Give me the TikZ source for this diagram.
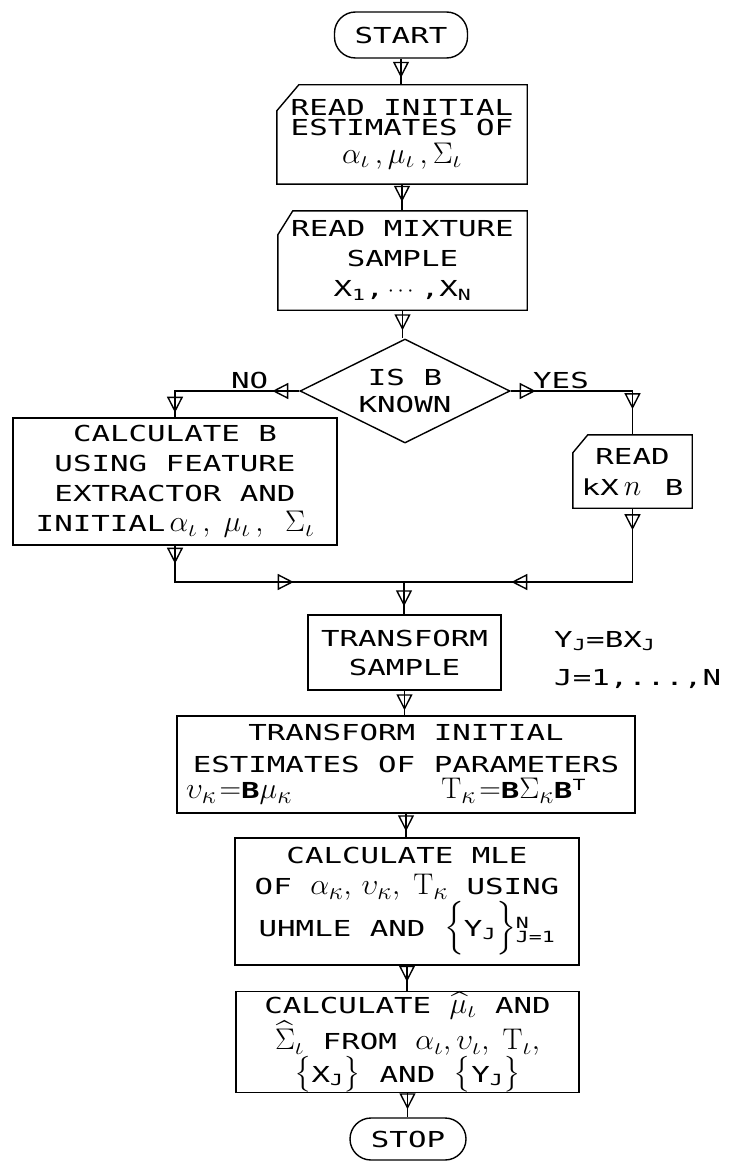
\RequirePackage{fix-cm}
\documentclass[tikz,border=0pt]{standalone}
\usepackage{amsmath}
\usepackage{graphicx}
\usepackage{fontspec}
\newfontfamily\plotfont[FakeStretch=1.4]{DejaVu Sans Mono}
\newcommand\gk[1]{\scalebox{1.2}{\fontsize{24.88}{25}\selectfont$#1$}}
\usetikzlibrary{arrows.meta,shapes.geometric,decorations.markings}
\tikzset{
  base/.style={font=\plotfont\fontsize{22}{30}\selectfont, align=center, inner sep=0pt},
  boxline/.style={line width=1.4pt},
  box/.style={base, draw, boxline, rectangle},
  cardtext/.style={base, rectangle},
  term/.style={box, rounded corners=21pt},
  decide/.style={base, draw, boxline, diamond, aspect=2},
  flow/.style={line width=1.4pt},
  mk/.style={decoration={markings, mark=at position #1 with {\arrow{Triangle[open,length=16pt,width=16pt]}}}},
  lbl/.style={font=\plotfont\fontsize{22}{30}\selectfont, inner sep=0pt, anchor=base west},
}
\begin{document}
\begin{tikzpicture}[x=1pt,y=-1pt]
\fill[white] (0,0) rectangle (739,1161);
\useasboundingbox (0,0) rectangle (739,1161);

% nodes
\node[term, minimum width=133pt, minimum height=46pt] (start) at (401,35) {START};

\node[cardtext, minimum width=250pt, minimum height=99pt, font=\plotfont\fontsize{22}{20}\selectfont] (read1) at (402,134.5)
  {READ INITIAL\\ESTIMATES OF\\[6pt]\gk{\alpha_\iota\,,\mu_\iota\,,\Sigma_\iota}};
\draw[boxline] ([yshift=-26pt]read1.north west) -- ([xshift=22pt]read1.north west) -- (read1.north east)
  -- (read1.south east) -- (read1.south west) -- cycle;

\node[cardtext, minimum width=249pt, minimum height=99pt] (read2) at (402.5,260.5)
  {READ MIXTURE\\SAMPLE\\X$_{\text{1}}$,\,$\cdots$\,,X$_{\text{N}}$};
\draw[boxline] ([yshift=-24pt]read2.north west) -- ([xshift=15pt]read2.north west) -- (read2.north east)
  -- (read2.south east) -- (read2.south west) -- cycle;

\node[decide, minimum width=210pt, minimum height=104pt, font=\plotfont\fontsize{22}{27}\selectfont] (dec) at (405,391)
  {IS B\\KNOWN};

\node[box, minimum width=324pt, minimum height=127pt] (calcB) at (175,481.5)
  {CALCULATE B\\USING FEATURE\\EXTRACTOR AND\\INITIAL\hspace{4pt}\gk{\alpha_\iota\,,\;\mu_\iota\,,\;\;\Sigma_\iota}\hspace{10pt}};

\node[cardtext, minimum width=119pt, minimum height=73pt, font=\plotfont\fontsize{22}{31}\selectfont] (readB) at (632.5,471.5)
  {READ\\kX\gk{\,n\,} B};
\draw[boxline] ([yshift=-18pt]readB.north west) -- ([xshift=15pt]readB.north west) -- (readB.north east)
  -- (readB.south east) -- (readB.south west) -- cycle;

\coordinate (join) at (404,582);

\node[box, minimum width=193pt, minimum height=75pt, font=\plotfont\fontsize{22}{29}\selectfont] (tsample) at (404.5,652.5)
  {TRANSFORM\\SAMPLE};

\node[lbl, anchor=north west, align=left, font=\plotfont\fontsize{22}{38}\selectfont] (eqn) at (554,631)
  {Y$_{\text{J}}$=BX$_{\text{J}}$\\J=1,...,N};

\node[box, minimum width=458pt, minimum height=97pt, font=\plotfont\fontsize{22}{32}\selectfont] (tinit) at (406,764.5)
  {TRANSFORM INITIAL\\ESTIMATES OF PARAMETERS\\[-6pt]\hbox to 440pt{\gk{\upsilon_\kappa\!=}{\bfseries B}\gk{\mu_\kappa}\hfil\gk{\mathrm{T}_\kappa\!=}{\bfseries B}\gk{\Sigma_\kappa}{\bfseries B}$^{\text{T}}$\hspace*{40pt}}};

\node[box, minimum width=344pt, minimum height=127pt, font=\plotfont\fontsize{22}{31}\selectfont] (mle) at (407,901.5)
  {CALCULATE MLE\\OF \gk{\alpha_\kappa,\,\upsilon_\kappa,\;\mathrm{T}_\kappa} USING\\UHMLE AND \gk{\Bigl\{}Y$_{\text{J}}$\gk{\Bigr\}}$_{\text{J=1}}^{\text{N}}$};

\node[box, minimum width=343pt, minimum height=100pt, font=\plotfont\fontsize{22}{30}\selectfont] (final) at (407.5,1042)
  {CALCULATE \gk{\widehat{\mu}_\iota} AND\\[1pt]\gk{\widehat{\Sigma}_\iota} FROM \gk{\alpha_\iota,\upsilon_\iota,\;\mathrm{T}_\iota,}\\\gk{\bigl\{}X$_{\text{J}}$\gk{\bigr\}} AND \gk{\bigl\{}Y$_{\text{J}}$\gk{\bigr\}}};

\node[term, minimum width=116pt, minimum height=42pt] (stop) at (408,1139) {STOP};

\node[lbl] (lno) at (231,388) {NO};
\node[lbl] (lyes) at (533,388) {YES};

% connectors
\draw[flow, mk=-7pt, postaction=decorate] (start.south) -- (start.south |- read1.north);
\draw[flow, mk=-9pt, postaction=decorate] (read1.south) -- (read1.south |- read2.north);
\draw[flow, mk=-8pt, postaction=decorate] (read2.south) -- (read2.south |- dec.north);
\draw[flow, mk=27pt, mk=146pt, postaction=decorate] (dec.west) -- (calcB.north |- dec.west) -- (calcB.north);
\draw[flow, mk=25pt, mk=140pt, postaction=decorate] (dec.east) -- (readB.north |- dec.east) -- (readB.north);
\draw[flow, mk=18pt, mk=155pt, postaction=decorate] (calcB.south) -- (calcB.south |- join) -- (join);
\draw[flow, mk=22pt, mk=195pt, postaction=decorate] (readB.south) -- (readB.south |- join) -- (join);
\draw[flow, mk=-8pt, postaction=decorate] (join) -- (join |- tsample.north);
\draw[flow, mk=-5pt, postaction=decorate] (tsample.south) -- (tsample.south |- tinit.north);
\draw[flow, mk=-6pt, postaction=decorate] (tinit.south) -- (tinit.south |- mle.north);
\draw[flow, mk=-9pt, postaction=decorate] (mle.south) -- (mle.south |- final.north);
\draw[flow, mk=-8pt, postaction=decorate] (final.south) -- (final.south |- stop.north);
\end{tikzpicture}
\end{document}
